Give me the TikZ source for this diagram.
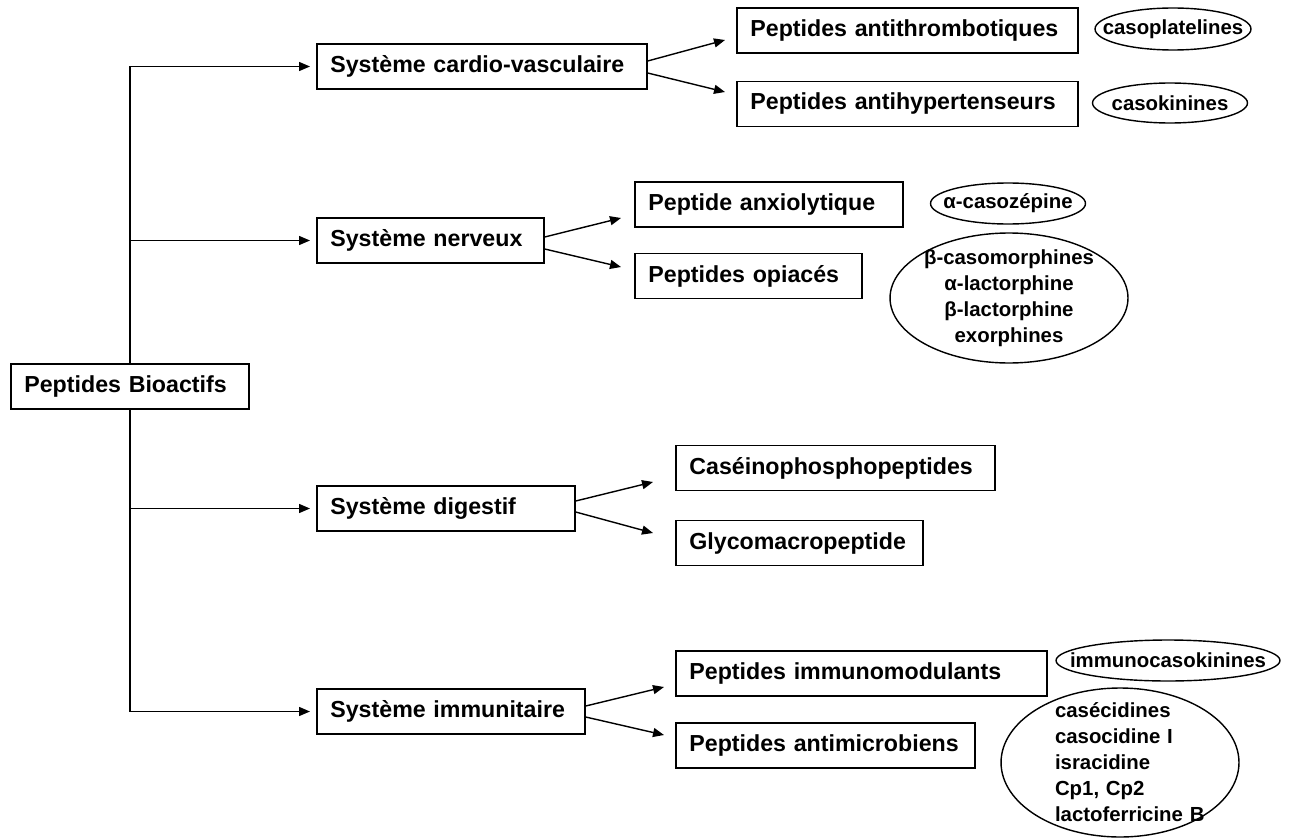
\documentclass[tikz,border=0pt]{standalone}
\usepackage{fontspec}
\setmainfont{Liberation Sans}
\usetikzlibrary{shapes.geometric, arrows.meta}

\begin{document}
\begin{tikzpicture}[x=0.02cm, y=-0.02cm,
  box/.style={draw, line width=1pt, anchor=west, minimum height=0.9cm, inner xsep=0.27cm, align=left, font=\fontsize{13.2}{16}\selectfont\bfseries},
  oval/.style={draw, ellipse, line width=0.8pt, inner xsep=-0.5cm, inner ysep=-0.3cm, align=center, font=\fontsize{11.6}{14.8}\selectfont\bfseries},
  arr/.style={line width=0.8pt, -{Triangle[length=0.22cm, width=0.18cm]}}]
\useasboundingbox (0,0) rectangle (1290,838);

% racine et systemes
\node[box, text width=4.22cm] (bio) at (10,386.5) {Peptides Bioactifs};
\node[box, text width=6.06cm] (cv) at (316,66.5) {Système cardio-vasculaire};
\node[box, text width=4.0cm] (nv) at (316,240.5) {Système nerveux};
\node[box, text width=4.62cm] (dg) at (316,508.5) {Système digestif};
\node[box, text width=4.82cm] (im) at (316,711.5) {Système immunitaire};

% peptides
\node[box, text width=6.28cm] (at) at (736,30.5) {Peptides antithrombotiques};
\node[box, text width=6.28cm] (ah) at (736,104) {Peptides antihypertenseurs};
\node[box, text width=4.82cm] (ax) at (634,204.5) {Peptide anxiolytique};
\node[box, text width=4.0cm] (op) at (634,276) {Peptides opiacés};
\node[box, text width=5.84cm] (cp) at (675,468) {Caséinophosphopeptides};
\node[box, text width=4.4cm] (gm) at (675,543) {Glycomacropeptide};
\node[box, text width=6.88cm] (imm) at (675,673.5) {Peptides immunomodulants};
\node[box, text width=5.44cm] (am) at (675,745.5) {Peptides antimicrobiens};

% exemples
\node[oval, minimum width=3.12cm, minimum height=0.84cm] (cpl) at (1173,29) {casoplatelines};
\node[oval, minimum width=3.1cm, minimum height=0.8cm] (ck) at (1170,103) {casokinines};
\node[oval, minimum width=3.1cm, minimum height=0.82cm] (cz) at (1008,203.5) {α-casozépine};
\node[oval, minimum width=4.76cm, minimum height=2.6cm] (opi) at (1009,298) {β-casomorphines\\α-lactorphine\\β-lactorphine\\exorphines};
\node[oval, minimum width=4.48cm, minimum height=0.82cm] (ick) at (1168,660.5) {immunocasokinines};
\node[oval, minimum width=4.76cm, minimum height=2.98cm, text width=2.6cm, align=left] (amc) at (1120,762.5) {casécidines\\casocidine~I\\isracidine\\Cp1,~Cp2\\lactoferricine~B};

\draw[arr, shorten >=0.12cm] (bio.north) |- (cv.west);
\draw[arr, shorten >=0.12cm] (bio.north) |- (nv.west);
\draw[arr, shorten >=0.12cm] (bio.south) |- (dg.west);
\draw[arr, shorten >=0.12cm] (bio.south) |- (im.west);

\draw[arr] ([yshift=0.11cm]cv.east) -- ([xshift=-0.22cm, yshift=-0.19cm]at.west);
\draw[arr] ([yshift=-0.13cm]cv.east) -- ([xshift=-0.22cm, yshift=0.24cm]ah.west);
\draw[arr] ([yshift=0.07cm]nv.east) -- ([xshift=-0.26cm, yshift=-0.27cm]ax.west);
\draw[arr] ([yshift=-0.17cm]nv.east) -- ([xshift=-0.26cm, yshift=0.18cm]op.west);
\draw[arr] ([yshift=0.15cm]dg.east) -- ([xshift=-0.44cm, yshift=-0.28cm]cp.west);
\draw[arr] ([yshift=-0.07cm]dg.east) -- ([xshift=-0.44cm, yshift=0.2cm]gm.west);
\draw[arr] ([yshift=0.11cm]im.east) -- ([xshift=-0.22cm, yshift=-0.27cm]imm.west);
\draw[arr] ([yshift=-0.11cm]im.east) -- ([xshift=-0.22cm, yshift=0.21cm]am.west);
\end{tikzpicture}
\end{document}
